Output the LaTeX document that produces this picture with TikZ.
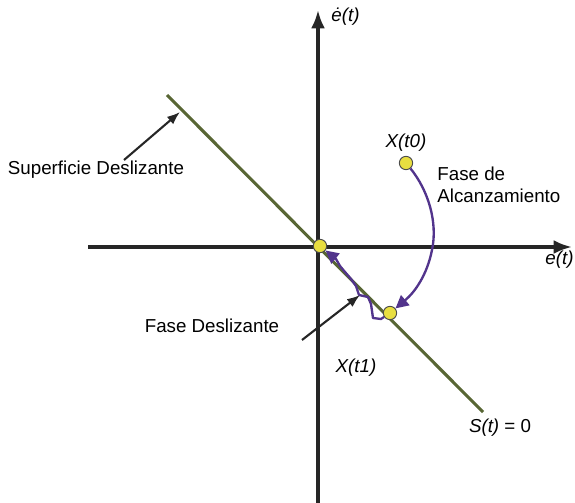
\documentclass[tikz,border=0pt]{standalone}
\usepackage{fontspec}
\setmainfont{Liberation Sans}
\usepackage{xcolor}
\usetikzlibrary{positioning,arrows.meta}

\definecolor{surfgreen}{RGB}{88,102,52}
\definecolor{trajpurple}{RGB}{82,52,140}
\definecolor{dotyellow}{RGB}{232,222,64}

\begin{document}
\begin{tikzpicture}[x=0.03cm, y=-0.03cm, >=Latex,
  axis/.style={line width=2.8pt, black!85},
  surf/.style={line width=2.6pt, surfgreen},
  traj/.style={line width=2pt, trajpurple, -{Triangle[length=11pt,width=11pt]}},
  pt/.style={circle, fill=dotyellow, draw=black!70, line width=0.8pt, minimum size=0.4cm, inner sep=0pt},
  lbl/.style={font=\fontsize{16}{18}\selectfont, inner sep=1pt},
  pointer/.style={->, line width=1.8pt, black!85}]
  \useasboundingbox (0,0) rectangle (575,503);
  % axes
  \draw[axis, ->] (318,503) -- (318,10);
  \draw[axis, ->] (88,247) -- (572,247);
  \node[lbl, anchor=west] (edot) at (330,17) {\itshape\.{e}(t)};
  \node[lbl, anchor=north east] (eax) at (575,250) {\itshape e(t)};
  % sliding surface S(t)=0
  \coordinate (stop) at (167,95);
  \coordinate (sbot) at (483,412);
  \draw[surf] (stop) -- (sbot);
  \node[lbl, anchor=north] (szero) at (500,418) {\itshape S(t)\upshape\ = 0};
  % states
  \node[pt] (org) at (320,246) {};
  \node[pt] (x0) at (406,163) {};
  \node[pt] (x1) at (390,313) {};
  \node[lbl, above=3pt of x0] (x0lbl) {\itshape X(t0)};
  \node[lbl] (x1lbl) at (356,368) {\itshape X(t1)};
  % reaching phase
  \draw[traj] (x0) .. controls (428,190) and (438,222) .. (432,250)
    .. controls (427,275) and (415,292) .. (x1);
  \node[lbl, anchor=north west, align=left] (reach) at (436,166) {Fase de\\Alcanzamiento};
  % sliding phase
  \draw[traj, line join=round] (x1) -- (381,319) -- (373,318) -- (371,304) -- (368,297) -- (359,295)
    -- (356,286) -- (351,279) -- (345,272) -- (340,266) -- (336,259) -- (org);
  % labels with pointers
  \node[lbl] (slide) at (212,326) {Fase Deslizante};
  \coordinate (sltail) at (302,340);
  \coordinate (sltip) at (360,295);
  \draw[pointer] (sltail) -- (sltip);
  \node[lbl] (surflbl) at (96,170) {Superficie Deslizante};
  \coordinate (sftail) at (124,160);
  \coordinate (sftip) at (180,112);
  \draw[pointer] (sftail) -- (sftip);
\end{tikzpicture}
\end{document}
